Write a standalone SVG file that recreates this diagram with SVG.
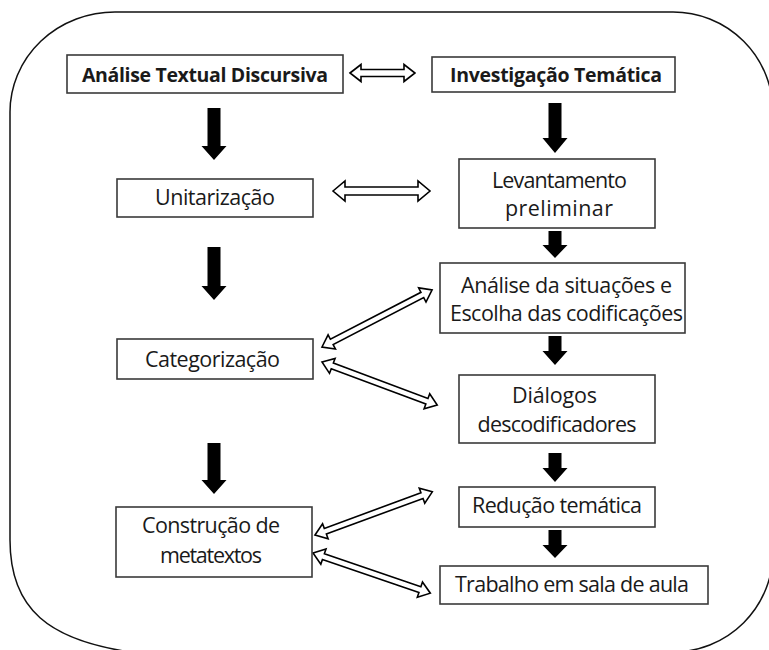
<svg xmlns="http://www.w3.org/2000/svg" width="769" height="650" viewBox="0 0 769 650">
<style>
.frame{fill:#fff;stroke:#111;stroke-width:1.5}
.box{fill:#fff;stroke:#3a3a3a;stroke-width:1.6}
.t{font-family:"Open Sans","Liberation Sans",sans-serif;font-size:21.5px;fill:#1a1a1a;text-anchor:middle}
.b{font-weight:bold;font-size:19.5px}
.blk{fill:#000;stroke:none}
.hol{fill:#fff;stroke:#000;stroke-width:1.6;stroke-linejoin:miter}
</style>
<rect width="769" height="650" fill="#fff"/>
<path class="frame" d="M115,12 L673,12 A100,100 0 0 1 773,112 L773,552 A100,100 0 0 1 673,652 L130,652 C50,640 10,610 10,540 L10,112 A105,100 0 0 1 115,12 Z"/>

<g id="connectors">
  <polygon class="blk" points="207.5,108 220.5,108 220.5,146 226.5,146 214,160 201.5,146 207.5,146"/>
  <polygon class="blk" points="548.5,103 561.5,103 561.5,138 567.5,138 555,153 542.5,138 548.5,138"/>
  <polygon class="blk" points="548.5,231 561.5,231 561.5,245 567.5,245 555,258 542.5,245 548.5,245"/>
  <polygon class="blk" points="207.5,247 220.5,247 220.5,286 226.5,286 214,300 201.5,286 207.5,286"/>
  <polygon class="blk" points="548.5,336 561.5,336 561.5,351 567.5,351 555,365 542.5,351 548.5,351"/>
  <polygon class="blk" points="207.5,443 220.5,443 220.5,480 226.5,480 214,494 201.5,480 207.5,480"/>
  <polygon class="blk" points="548.5,453 561.5,453 561.5,468 567.5,468 555,482 542.5,468 548.5,468"/>
  <polygon class="blk" points="548.5,530 561.5,530 561.5,545 567.5,545 555,558 542.5,545 548.5,545"/>

  <polygon class="hol" points="350,73 361,64.5 361,69.5 404,69.5 404,64.5 415,73 404,81.5 404,76.5 361,76.5 361,81.5"/>
  <polygon class="hol" points="333,191 345,181 345,187 418,187 418,181 430,191 418,201 418,195 345,195 345,201"/>

  <polygon class="hol" transform="translate(322,347) rotate(-27.4)" points="0,0 11,-8 11,-3 113,-3 113,-8 124,0 113,8 113,3 11,3 11,8"/>
  <polygon class="hol" transform="translate(322,362) rotate(20.5)" points="0,0 11,-8 11,-3 112,-3 112,-8 123,0 112,8 112,3 11,3 11,8"/>
  <polygon class="hol" transform="translate(315,535) rotate(-20.2)" points="0,0 11,-8 11,-3 114,-3 114,-8 125,0 114,8 114,3 11,3 11,8"/>
  <polygon class="hol" transform="translate(313,553) rotate(18.9)" points="0,0 11,-8 11,-3 113,-3 113,-8 124,0 113,8 113,3 11,3 11,8"/>
</g>

<g id="atd">
  <rect class="box" x="67" y="55" width="276" height="38"/>
  <text class="t b" x="205" y="82" textLength="246">Análise Textual Discursiva</text>
</g>
<g id="it">
  <rect class="box" x="432" y="57" width="243" height="35"/>
  <text class="t b" x="556" y="82" textLength="212">Investigação Temática</text>
</g>
<g id="unit">
  <rect class="box" x="117" y="179" width="196" height="38"/>
  <text class="t" x="215" y="205" textLength="120">Unitarização</text>
</g>
<g id="lev">
  <rect class="box" x="459" y="159" width="196" height="69"/>
  <text class="t" x="559.5" y="188" textLength="135">Levantamento</text>
  <text class="t" x="559" y="216" textLength="108">preliminar</text>
</g>
<g id="ana">
  <rect class="box" x="440" y="263" width="245" height="70"/>
  <text class="t" x="566.5" y="293" textLength="211">Análise da situações e</text>
  <text class="t" x="566.5" y="321" textLength="233">Escolha das codificações</text>
</g>
<g id="cat">
  <rect class="box" x="117" y="339" width="196" height="40"/>
  <text class="t" x="212.5" y="367" textLength="135">Categorização</text>
</g>
<g id="dia">
  <rect class="box" x="459" y="375" width="196" height="68"/>
  <text class="t" x="554.5" y="403" textLength="85">Diálogos</text>
  <text class="t" x="557" y="432" textLength="159">descodificadores</text>
</g>
<g id="con">
  <rect class="box" x="116" y="507" width="196" height="70"/>
  <text class="t" x="211" y="533" textLength="138">Construção de</text>
  <text class="t" x="211" y="563" textLength="102">metatextos</text>
</g>
<g id="red">
  <rect class="box" x="459" y="487" width="196" height="40"/>
  <text class="t" x="557" y="513" textLength="170">Redução temática</text>
</g>
<g id="tra">
  <rect class="box" x="440" y="566" width="268" height="38"/>
  <text class="t" x="572" y="592" textLength="234">Trabalho em sala de aula</text>
</g>
</svg>
